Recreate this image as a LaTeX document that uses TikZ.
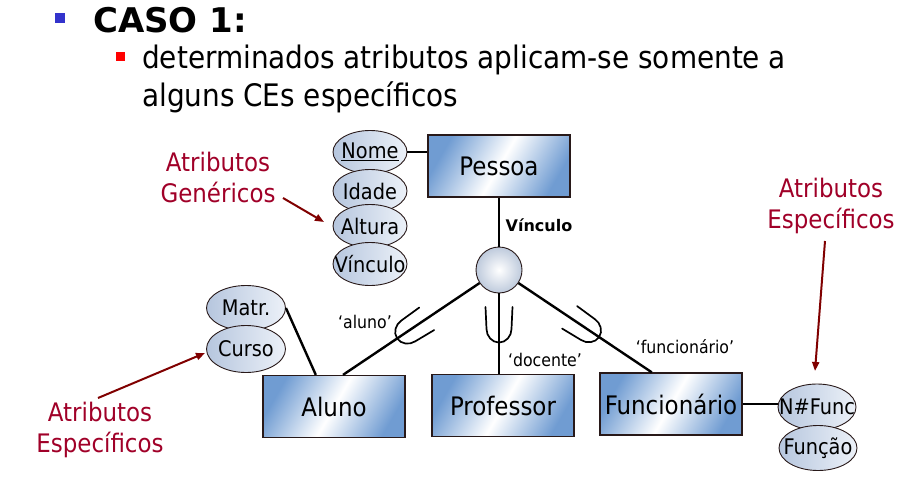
\documentclass[tikz,border=0pt]{standalone}
\usepackage{fontspec}
\setmainfont{DejaVu Sans Condensed}
\newfontfamily\widefont{DejaVu Sans}
\usetikzlibrary{arrows.meta,calc,shapes.geometric}
\definecolor{boxblue}{RGB}{112,156,210}
\definecolor{bordc}{RGB}{40,25,25}
\definecolor{ellL}{RGB}{182,198,222}
\definecolor{ellR}{RGB}{236,241,248}
\definecolor{circO}{RGB}{190,202,220}
\definecolor{notered}{RGB}{160,0,40}
\definecolor{arrowred}{RGB}{128,0,0}
\definecolor{bulletblue}{RGB}{51,51,204}
\definecolor{bulletred}{RGB}{255,0,0}
\begin{document}
\begin{tikzpicture}[x=1pt,y=-1pt,
  ent/.style={draw=bordc, line width=1.3pt, minimum width=142pt, minimum height=62pt,
    inner sep=0pt, left color=boxblue, right color=boxblue, middle color=white,
    shading angle=60, font=\fontsize{25.5}{30}\selectfont},
  attrtext/.style={font=\fontsize{21.5}{24}\selectfont, inner sep=0pt},
  attr/.style={ellipse, draw=bordc, line width=0.9pt, inner sep=0pt,
    minimum width=74pt, minimum height=43pt, left color=ellL, right color=ellR,
    label={[attrtext]center:#1}},
  conn/.style={line width=2.4pt, black},
  note/.style={text=notered, align=center, font=\fontsize{25.5}{31}\selectfont},
  notearrow/.style={draw=arrowred, line width=2pt, -{Triangle[length=9pt,width=7pt]}},
  lbl/.style={font=\fontsize{17.5}{20}\selectfont},
  subs/.pic={\draw[line width=1.7pt, line cap=round] (-18,13.5) -- (4,12.5) .. controls (11,12.5) and (17.5,7) .. (17.5,0) .. controls (17.5,-7) and (11,-12.5) .. (4,-12.5) -- (-18,-13.5);}
]
\useasboundingbox (0,0) rectangle (913,479);

% header
\fill[bulletblue] (55,13) rectangle (65,23);
\node[anchor=base west, inner sep=0pt, font=\fontsize{34}{40}\selectfont\widefont\bfseries] (caso) at (93,32) {CASO 1:};
\fill[bulletred] (116,52) rectangle (125,61);
\node[anchor=base west, inner sep=0pt, font=\fontsize{31}{38}\selectfont] (l1) at (142,68) {determinados atributos aplicam-se somente a};
\node[anchor=base west, inner sep=0pt, font=\fontsize{31}{38}\selectfont] (l2) at (142,106) {alguns CEs específicos};

% entities
\node[ent] (pessoa) at (499,166) {Pessoa};
\node[ent] (aluno) at (334,406.5) {Aluno};
\node[ent] (prof) at (503,405.5) {Professor};
\node[ent] (func) at (671,404) {Funcionário};

% specialization circle
\node[circle, draw=bordc, line width=0.9pt, minimum size=46pt, inner sep=0pt,
  inner color=white, outer color=circO] (vc) at (499,270) {};

% attribute ellipses
\node[attr={\underline{Nome}}] (nome) at (370,152) {};
\node[attr=Idade] (idade) at (370,191) {};
\node[attr=Altura] (altura) at (370,226) {};
\node[attr=Vínculo] (vinc) at (370,264) {};
\node[attr=Matr., minimum width=79pt, minimum height=45pt] (matr) at (246,308) {};
\node[attr=Curso, minimum width=79pt, minimum height=47pt] (curso) at (246,349) {};
\node[attr={N\#Func}, minimum width=78pt, minimum height=46pt] (nf) at (817,407) {};
\node[attr=Função, minimum width=78pt, minimum height=45pt] (funcao) at (818,448) {};

% attachment points
\coordinate (a1) at ($(aluno.north west)!0.563!(aluno.north east)$);
\coordinate (a2) at ($(aluno.north west)!0.373!(aluno.north east)$);
\coordinate (f1) at ($(func.north west)!0.366!(func.north east)$);

% connectors
\draw[conn] (nome.east) -- (nome.east -| pessoa.west);
\draw[conn] (pessoa.south) -- (vc);
\draw[conn] (vc) -- (a1);
\draw[conn] (vc) -- (vc |- prof.north);
\draw[conn] (vc) -- (f1);
\draw[conn] (matr.east) -- (a2);
\draw[conn] (func.east) -- (func.east -| nf.west);

% subset symbols
\path (vc.center) -- (a1) coordinate[pos=0.56] (u1);
\path (vc.center) -- (vc |- prof.north) coordinate[pos=0.53] (u2);
\path (vc.center) -- (f1) coordinate[pos=0.56] (u3);
\pic[rotate=213.4] at (u1) {subs};
\pic[rotate=270] at (u2) {subs};
\pic[rotate=-33.7] at (u3) {subs};

% labels
\node[font=\fontsize{16}{18}\selectfont\widefont\bfseries] (lvin) at (539,225) {Vínculo};
\node[lbl] (lal) at (365,322) {‘aluno’};
\node[lbl] (ldoc) at (545,360) {‘docente’};
\node[lbl] (lfun) at (685,347) {‘funcionário’};

% notes
\node[note] (gen) at (218,177) {Atributos\\Genéricos};
\coordinate (g0) at (283,198);
\coordinate (g1) at (324,222);
\draw[notearrow] (g0) -- (g1);

\node[note] (espL) at (100,430) {Atributos\\Específicos};
\coordinate (e0) at (98,398);
\coordinate (e1) at (205,353);
\draw[notearrow] (e0) -- (e1);

\node[note] (espR) at (831,206) {Atributos\\Específicos};
\coordinate (r0) at (825,241);
\coordinate (r1) at (815,371);
\draw[notearrow] (r0) -- (r1);
\end{tikzpicture}
\end{document}
